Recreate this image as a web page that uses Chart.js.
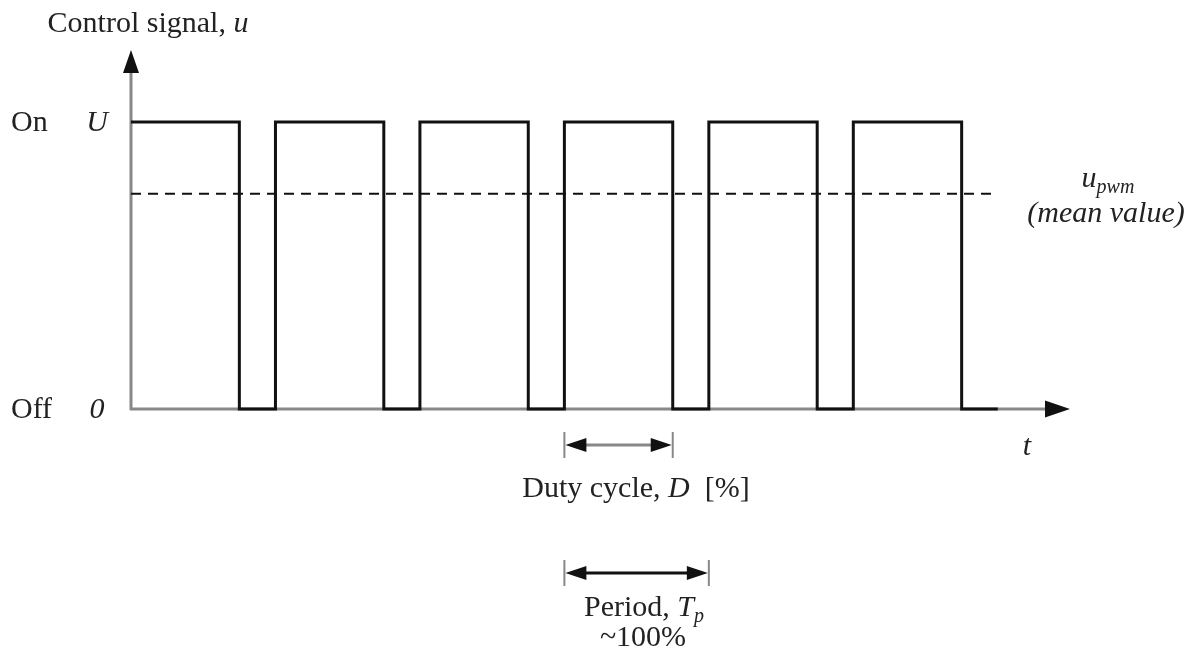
<!DOCTYPE html>
<html>
<head>
<meta charset="utf-8">
<script src="https://cdn.jsdelivr.net/npm/chart.js@4"></script>
<style>
  html, body { margin: 0; padding: 0; background: #fff; }
  #wrap { width: 1195px; height: 657px; position: relative; }
</style>
</head>
<body>
<div id="wrap"><canvas id="pwm"></canvas></div>
<script>
// PWM signal, time in % of period, level relative to U
const edgeTimes = [0, 75, 100, 175, 200, 275, 300, 375, 400, 475, 500, 575, 600];
const edgeLevels = [1, 0, 1, 0, 1, 0, 1, 0, 1, 0, 1, 0, 0];
const meanTimes = [0, 600];
const meanLevels = [0.75, 0.75];
const levelTicks = [1, 0];
const stateLabels = ["On", "Off"];
const valueLabels = ["U", "0"];
const dutyRange = [300, 375];
const periodRange = [300, 400];

const SERIF = "'Liberation Serif', 'DejaVu Serif', serif";
const AXIS_GRAY = "#888";
const INK = "#111";

function toPoints(xs, ys) {
    return xs.map((x, i) => ({ x, y: ys[i] }));
}

// draws a row of text runs [text, font, dy] centred on cx
function drawRuns(ctx, runs, cx, y) {
    let total = 0;
    runs.forEach(r => { ctx.font = r[1]; total += ctx.measureText(r[0]).width; });
    let x = cx - total / 2;
    ctx.textAlign = "left";
    runs.forEach(r => {
        ctx.font = r[1];
        ctx.fillText(r[0], x, y + (r[2] || 0));
        x += ctx.measureText(r[0]).width;
    });
}

function dimArrow(ctx, x1, x2, y, color) {
    ctx.save();
    ctx.strokeStyle = color;
    ctx.fillStyle = INK;
    ctx.lineWidth = 3;
    ctx.beginPath();
    ctx.moveTo(x1 + 8, y); ctx.lineTo(x2 - 8, y);
    ctx.stroke();
    ctx.strokeStyle = AXIS_GRAY;
    ctx.lineWidth = 2;
    ctx.beginPath();
    ctx.moveTo(x1, y - 13); ctx.lineTo(x1, y + 13);
    ctx.moveTo(x2, y - 13); ctx.lineTo(x2, y + 13);
    ctx.stroke();
    ctx.beginPath();
    ctx.moveTo(x1 + 1, y); ctx.lineTo(x1 + 22, y - 7); ctx.lineTo(x1 + 22, y + 7); ctx.closePath();
    ctx.moveTo(x2 - 1, y); ctx.lineTo(x2 - 22, y - 7); ctx.lineTo(x2 - 22, y + 7); ctx.closePath();
    ctx.fill();
    ctx.restore();
}

const axesPlugin = {
    id: "pwmAxes",
    beforeDatasetsDraw(chart) {
        const { ctx, chartArea: a } = chart;
        const x0 = chart.scales.x.getPixelForValue(0);
        const y0 = chart.scales.y.getPixelForValue(0);
        ctx.save();
        ctx.strokeStyle = AXIS_GRAY;
        ctx.lineWidth = 3;
        ctx.beginPath();
        ctx.moveTo(x0, y0 + 1); ctx.lineTo(x0, a.top + 22);
        ctx.moveTo(x0 - 1, y0); ctx.lineTo(a.right - 24, y0);
        ctx.stroke();
        ctx.fillStyle = INK;
        ctx.beginPath();
        ctx.moveTo(x0, a.top); ctx.lineTo(x0 - 8, a.top + 23); ctx.lineTo(x0 + 8, a.top + 23); ctx.closePath();
        ctx.moveTo(a.right, y0); ctx.lineTo(a.right - 25, y0 - 8.5); ctx.lineTo(a.right - 25, y0 + 8.5); ctx.closePath();
        ctx.fill();
        ctx.restore();
    },
    afterDraw(chart) {
        const { ctx, chartArea: a } = chart;
        const xs = chart.scales.x, ys = chart.scales.y;
        const y0 = ys.getPixelForValue(0);
        const up = "30px " + SERIF, it = "italic 30px " + SERIF, sub = "italic 20px " + SERIF;
        ctx.save();
        ctx.fillStyle = "#222";
        ctx.textBaseline = "alphabetic";

        drawRuns(ctx, [["Control signal, ", up], ["u", it]], 148, 32);

        levelTicks.forEach((v, i) => {
            const py = ys.getPixelForValue(v) + 9;
            ctx.textAlign = "left";
            ctx.font = up;
            ctx.fillText(stateLabels[i], 11, py);
            ctx.textAlign = "center";
            ctx.font = it;
            ctx.fillText(valueLabels[i], 97, py);
        });

        ctx.textAlign = "center";
        ctx.font = it;
        ctx.fillText("t", 1027, y0 + 46);

        drawRuns(ctx, [["u", it], ["pwm", sub, 6]], 1108, 187);
        drawRuns(ctx, [["(mean value)", it]], 1106, 222);

        const d1 = xs.getPixelForValue(dutyRange[0]), d2 = xs.getPixelForValue(dutyRange[1]);
        dimArrow(ctx, d1, d2, y0 + 36, AXIS_GRAY);
        drawRuns(ctx, [["Duty cycle, ", up], ["D", it], ["  [%]", up]], 636, y0 + 88);

        const p1 = xs.getPixelForValue(periodRange[0]), p2 = xs.getPixelForValue(periodRange[1]);
        dimArrow(ctx, p1, p2, y0 + 164, INK);
        drawRuns(ctx, [["Period, ", up], ["T", it], ["p", sub, 6]], 644, y0 + 207);
        drawRuns(ctx, [["~100%", up]], 643, y0 + 237);
        ctx.restore();
    }
};

new Chart(document.getElementById("pwm"), {
    type: "line",
    data: {
        datasets: [
            {
                label: "u",
                data: toPoints(edgeTimes, edgeLevels),
                stepped: true,
                borderColor: INK,
                borderWidth: 3,
                pointRadius: 0,
                clip: false,
            },
            {
                label: "u_pwm",
                data: toPoints(meanTimes, meanLevels),
                borderColor: INK,
                borderWidth: 2,
                borderDash: [10, 7],
                pointRadius: 0,
                clip: false,
            },
        ],
    },
    options: {
        responsive: true,
        maintainAspectRatio: false,
        animation: false,
        layout: { padding: { left: 131, right: 125, top: 50, bottom: 248 } },
        scales: {
            x: { type: "linear", min: 0, max: 650, display: false },
            y: { min: 0, max: 1.251, display: false },
        },
        plugins: { legend: { display: false }, tooltip: { enabled: false } },
    },
    plugins: [axesPlugin],
});
</script>
</body>
</html>
